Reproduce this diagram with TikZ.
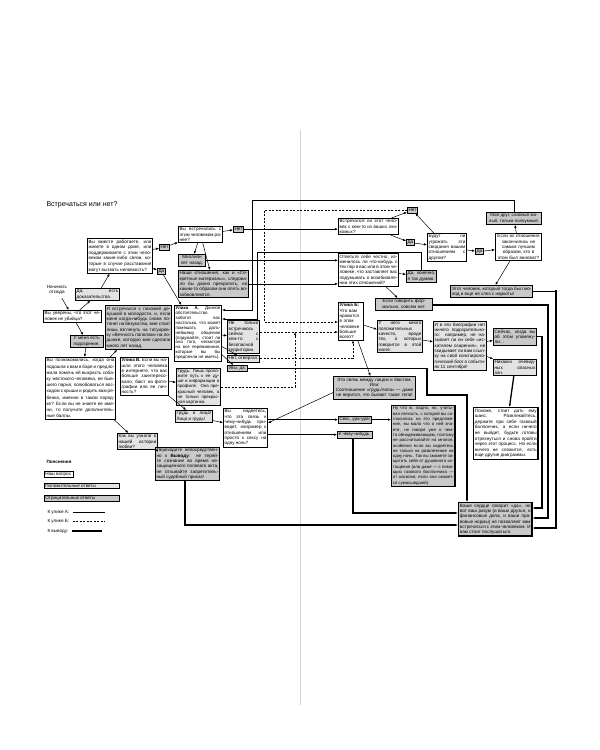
\documentclass[tikz,border=0pt]{standalone}
\usepackage{fontspec}
\setmainfont{Liberation Sans}
\usetikzlibrary{arrows.meta}
\lefthyphenmin=2 \righthyphenmin=2
\hyphenation{ра-бо-та-ете под-дер-жи-ва-ете че-ло-ве-ком ко-то-рые рас-ста-ва-ния вы-звать не-лов-кость
  уве-ре-ны че-ло-век убий-ца до-ка-за-тель-ства по-до-зре-ния
  по-зна-ко-ми-лись по-до-шла пред-ло-жи-ла по-мочь вы-красть со-ба-ку же-сто-ко-го че-ло-ве-ка быв-ше-го
  по-лю-бо-вать-ся вос-хо-дом ре-бен-ка имен-но по-ряд-ке зна-ете име-ни по-лу-чи-те до-пол-ни-тель-ные
  встре-чал-ся по-хо-жей де-вуш-кой мо-ло-до-сти сно-ва по-тя-нет без-ум-ства стоит взгля-нуть
  та-ту-иров-ку веч-ность по-по-лам ло-дыж-ке ко-то-рую сде-ла-ли
  узна-ли на-шей ис-то-рии лю-бви
  пе-ре-хо-ди-те не-по-сред-ствен-но вы-во-ду те-ряй-те со-зна-ние вре-мя не-за-щи-щен-но-го по-ло-во-го
  от-зы-вай-те за-пре-ти-тель-ный су-деб-ный при-каз
  встре-ча-лись ра-нее от-но-ше-ния се-крет-ные ма-те-ри-а-лы сле-до-ва-ло дав-но пре-кра-тить
  об-ра-зом опять во-зоб-нов-ля-ют-ся
  об-сто-я-тель-ство за-бо-тит на-столь-ко мо-жет по-ме-шать даль-ней-ше-му об-ще-нию по-ду-май-те
  не-смот-ря пе-ре-жи-ва-ния пред-по-чли иметь
  встре-ча-юсь сей-час без-опас-ной тер-ри-то-рии
  про-ло-жи-те ду-ше ин-фор-ма-ции про-фи-ле пре-крас-ный пре-крас-ная кар-тин-ка
  на-шли ин-тер-не-те боль-ше за-ин-те-ре-со-ва-ло фо-то-гра-фии лич-ность
  на-де-е-тесь связь при-ве-дет на-при-мер от-но-ше-ни-ям про-сто сек-су
  зна-ко-мых угро-жать сви-да-ния дру-гом слав-ный ма-лый
  за-кон-чи-лись са-мым луч-шим ви-но-ват ко-то-рый тог-да мо-лод нар-ко-ты
  от-веть-те из-ме-ни-лось че-ло-ве-ке за-став-ля-ет по-ду-мы-вать во-зоб-нов-ле-нии от-но-ше-ний
  го-во-рить фор-маль-но со-всем нра-вит-ся все-го
  мно-го по-ло-жи-тель-ных ка-честв вро-де го-во-рит-ся кни-ге
  био-гра-фии ни-че-го по-до-зри-тель-но-го на-зы-ва-ет ис-ка-те-лем оза-ре-ния ски-ды-ва-ет ссыл-ку
  кон-спи-ро-ло-ги-че-ский со-бы-ти-ях сен-тяб-ря
  упо-мя-ну-ли ни-ка-ких оче-вид-ных опас-ных
  по-хо-же сто-ит раз-вле-кай-тесь дер-жи-те се-бе га-зо-вый бал-лон-чик вый-дет
  будь-те го-то-вы от-рях-нуть-ся прой-ти че-рез про-цесс сло-жит-ся дру-гие ди-а-грам-мы
  ли-цом бю-стом со-от-но-ше-ние даже ве-рит-ся бы-ва-ет
  ла-дно учи-ты-вая лег-кость со-гла-си-лись пред-ло-же-ние го-во-ря об-на-де-жи-ва-ю-щем по-это-му
  рас-счи-ты-вай-те мно-гое осо-бен-но раз-вле-че-ние смо-же-те за-щи-тить ду-шев-но-го ис-то-ще-ния
  по-мо-щью га-зо-во-го бал-лон-чи-ка на-си-лия ока-жет-ся су-мас-шед-шей
  сер-дце го-во-рит ра-зум дру-зья фи-нан-со-вые пра-во-вые нор-мы поз-во-ля-ют встре-чать-ся
  по-слу-шать-ся}
\newcommand\fs{\fontsize{4.6}{5.3}\selectfont}
\tikzset{ q/.style   = { draw
                       , fill         = white
                       , line width   = 0.7pt
                       , inner sep    = 1.3pt
                       , anchor       = north west
                       , align        = justify
                       , font         = \fs
                       , text width   = #1
                       },
          q/.default = 40pt,
          pos/.style = { q = #1
                       , fill = gray!22
                       },
          pos/.default = 40pt,
          neg/.style = { q = #1
                       , fill = gray!42
                       },
          neg/.default = 40pt,
          yn/.style  = { draw
                       , fill = gray!42
                       , line width = 0.7pt
                       , inner sep  = 1.2pt
                       , anchor     = north west
                       , font       = \fs
                       },
          arr/.style = { -{Latex[length=3pt,width=2.4pt]}
                       , line width = 0.5pt
                       },
          dsh/.style = { arr
                       , line width   = 0.7pt
                       , dash pattern = on 2pt off 1.5pt
                       },
          thk/.style = { arr
                       , line width = 1.3pt
                       }
        }

\begin{document}
\begin{tikzpicture}[x=1pt, y=-1pt]
  \useasboundingbox (0,0) rectangle (600,750);
  % page fold
  \draw[gray!35, line width=0.8pt] (300,130) -- (300,705);

  \node[anchor=west, font=\fontsize{7}{8.5}\selectfont] (title) at (43,205) {Встречаться или нет?};

  % left page
  \node[q=62.7pt, font=\fontsize{4.6}{5.6}\selectfont] (q1) at (87,238) {Вы вместе работаете, или живете в одном доме, или поддерживаете с этим человеком какие-либо связи, которые в случае расставания могут вызвать неловкость?};
  \node[align=center, font=\fs] (start) at (57,290) {Начинать\\отсюда};
  \node[q=55.7pt] (sure) at (43,310) {Вы уверены, что этот человек не убийца?};
  \node[pos=41.7pt] (evid) at (75,288) {Да, есть доказательства.};
  \node[neg=30pt, align=center] (susp) at (70,335) {У меня есть подозрения.};
  \node[q=67.7pt, font=\fontsize{4.6}{6.2}\selectfont] (met) at (45,357) {Вы познакомились, когда она подошла к вам в баре и предложила помочь ей выкрасть собаку жестокого человека, ее бывшего парня, полюбоваться восходом с крыши и родить вам ребенка, именно в таком порядке? Если вы не знаете ее имени, то получите дополнительные баллы.};
  \node[neg=63.7pt] (similar) at (105,305) {Я встречался с похожей девушкой в молодости, и, если меня когда-нибудь снова потянет на безумства, мне стоит лишь взглянуть на татуировку «Вечность пополам» на лодыжке, которую мне сделали много лет назад.};
  \node[pos=37.7pt] (story) at (117,433) {Как вы узнали о нашей истории любви?};
  \node[neg=61.7pt] (direct) at (155,447) {Переходите непосредственно к \textbf{Выводу}: не теряйте сознание во время незащищенного полового акта, не отзывайте запретительный судебный приказ!};

  \node[q=41.7pt] (before) at (178,226) {Вы встречались с этим человеком ранее?};
  \node[yn] (no0) at (233,226) {Нет};
  \node[yn] (no1) at (159,244) {Нет};
  \node[yn] (yes1) at (157,268) {Да};
  \node[neg=24.7pt, align=center] (million) at (178,254) {Миллион лет назад.};
  \node[neg=67.7pt] (secret) at (178,270) {Наши отношения, как и «Секретные материалы», следовало бы давно прекратить, но каким-то образом они опять возобновляются.};
  \node[q=44.7pt, font=\fontsize{4.4}{4.9}\selectfont] (clueA) at (174,305) {\textbf{Улика А.} Данное обстоятельство заботит вас настолько, что может помешать дальнейшему общению (подумайте, стоит ли оно того, несмотря на все переживания, которые вы бы предпочли не иметь).};
  \node[pos=29.7pt] (notonly) at (227,320) {Не только встречаюсь сейчас с кем-то с безопасной территории.};
  \node[yn, fill=gray!22] (noreject) at (227,355) {Нет, отвергал.};
  \node[yn] (alas) at (227,365) {Увы, да.};
  \node[pos=41.7pt, font=\fontsize{4.4}{5.1}\selectfont] (soul) at (176,368) {Грудь. Лишь проложите путь к ее душе и информации о профиле. Она прекрасный человек, а не только прекрасная картинка.};
  \node[q=45.7pt] (clueV) at (120,357) {\textbf{Улика В.} Если вы нашли этого человека в интернете, что вас больше заинтересовало, бюст на фотографии или ее личность?};
  \node[pos=34.7pt] (bust) at (175,410) {Грудь и лицо! Лицо и грудь!};
  \node[q=41.7pt] (hope) at (223,408) {Вы надеетесь, что эта связь к чему-нибудь приведет, например к отношениям или просто к сексу на одну ночь?};

  % right page
  \node[q=57.7pt] (friends) at (338,218) {Встречался ли этот человек с кем-то из ваших знакомых?};
  \node[yn] (no2) at (407,207) {Нет};
  \node[yn] (yes2) at (406,239) {Да};
  \node[q=36.7pt] (threat) at (427,233) {Будут ли угрожать эти свидания вашим отношениям с другом?};
  \node[yn] (yes3) at (475,248) {Да};
  \node[neg=52.7pt, align=center, font=\fontsize{4.4}{5.3}\selectfont] (buddy) at (486,212) {Мой друг, славный ма-\\лый, только-полоумный.};
  \node[q=43.7pt, align=center] (ended) at (495,233) {Если их отношения закончились не самым лучшим образом, кто в этом был виноват?};
  \node[neg=79.7pt] (junkie) at (450,285) {Этот человек, который тогда был молод и еще не слез с наркоты!};
  \node[q=57.7pt] (honest) at (338,253) {Ответьте себе честно, изменилось ли что-нибудь с тех пор в вас или в этом человеке, что заставляет вас подумывать о возобновлении этих отношений?};
  \node[neg=27.7pt] (yesthink) at (406,270) {Да, конечно, я так думаю.};
  \node[neg=54.7pt, align=center] (formal) at (375,298) {Если говорить формально, совсем нет.};
  \node[q=22.7pt, align=left] (clueB) at (338,302) {\textbf{Улика Б:} Что вам нравится в этом человеке больше всего?};
  \node[pos=42.7pt] (quals) at (377,320) {У него много положительных качеств, вроде тех, о которых говорится в этой книге.};
  \node[pos=50.7pt] (bio) at (433,321) {И в его биографии нет ничего подозрительного: например, не называет ли он себя «искателем озарения», не скидывает ли вам ссылку на свой конспирологический блог о событиях 11 сентября!};
  \node[neg=40.7pt] (now) at (493,328) {Сейчас, когда вы об этом упомянули\dots};
  \node[pos=40.7pt] (nodanger) at (493,359) {Никаких очевидных опасных зон.};
  \node[q=61.7pt, line width=1.3pt, font=\fontsize{4.6}{5.6}\selectfont] (chance) at (473,407) {Похоже, стоит дать ему шанс. Развлекайтесь, держите при себе газовый баллончик, а если ничего не выйдет, будьте готовы отряхнуться и снова пройти через этот процесс. Но если ничего не сложится, есть еще другие диаграммы.};
  \node[neg=79.7pt, align=center] (link) at (333,376) {Это связь между лицом и бюстом.\\Или:\\Соотношение «грудь/попа» — даже не верится, что бывает такое тело!};
  \node[yn] (sex) at (338,416) {Секс, ура-ура!};
  \node[yn] (smth) at (337,431) {К чему-нибудь.};
  \node[neg=60.7pt, line width=1.3pt, font=\fontsize{4.3}{5.3}\selectfont] (well) at (391,405) {Ну что ж, ладно, но, учитывая легкость, с которой вы согласились на это предложение, вы мало что о ней знаете, не говоря уже о чем-то обнадеживающем, поэтому не рассчитывайте на многое, особенно если вы надеетесь не только на развлечение на одну ночь. Так вы сможете защитить себя от душевного истощения (или даже — с помощью газового баллончика — от насилия, если она окажется сумасшедшей).};
  \node[neg=70.7pt, line width=1.3pt] (heart) at (458,502) {Ваше сердце говорит «да», но вот ваш разум (и ваши друзья, и финансовые дела, и ваши правовые нормы) не позволяют вам встречаться с этим человеком. И вам стоит послушаться.};

  % legend
  \node[anchor=west, font=\fs\bfseries] (leg) at (43,462) {Пояснения};
  \node[q=27pt, inner sep=1pt] (lq) at (44,471) {Наш вопрос};
  \node[pos=73pt, inner sep=1pt] (lp) at (44,483) {Положительные ответы};
  \node[neg=73pt, inner sep=1pt] (ln) at (44,495) {Отрицательные ответы};
  \node[anchor=west, font=\fs] (la) at (44,512) {К улике А:};
  \node[anchor=west, font=\fs] (lb) at (44,521) {К улике Б:};
  \node[anchor=west, font=\fs] (lc) at (44,531) {К выводу:};
  \coordinate (la2) at (105,512);
  \coordinate (lb2) at (105,521);
  \coordinate (lc2) at (102,531);
  \draw[line width=0.6pt] (la) -- (la -| la2);
  \draw[line width=0.7pt, dash pattern=on 2pt off 1.5pt] (lb) -- (lb -| lb2);
  \draw[line width=1.3pt] (lc) -- (lc -| lc2);

  % connectors
  \draw[arr] (start) -- (sure);
  \draw[arr] (sure) -- (evid);
  \draw[arr] (evid) -- (q1);
  \draw[arr] (sure) -- (susp);
  \draw[arr] (susp) -- (met);
  \draw[arr] (met) -- (similar);
  \draw[arr] (met) -- (story);
  \draw[arr] (story) -- (direct);
  \draw[arr] (q1) -- (no1);
  \draw[arr] (no1) -- (before);
  \draw[arr] (q1) -- (yes1);
  \draw[arr] (yes1) -- (clueA);
  \draw[arr] (before) -- (no0);
  \draw[arr] (before) -- (million);
  \draw[arr] (before) -- (secret);
  \draw[arr] (no0) -- (no0 -| friends.west);
  \draw[arr] (million) -- (million -| honest.west);
  \draw[arr] (secret) -- (secret -| honest.west);
  \draw[arr] (clueA) -- (notonly);
  \draw[arr] (clueA) -- (noreject);
  \draw[arr] (clueA) -- (alas);
  \draw[arr] (clueV) -- (soul);
  \draw[arr] (clueV) -- (bust);
  \draw[arr] (bust) -- (hope);
  \draw[arr] (friends) -- (no2);
  \draw[arr] (friends) -- (yes2);
  \draw[arr] (yes2) -- (threat);
  \draw[arr] (threat) -- (no2);
  \draw[arr] (threat) -- (yes3);
  \draw[arr] (yes3) -- (ended);
  \draw[arr] (ended) -- (buddy);
  \draw[arr] (ended) -- (junkie);
  \draw[arr] (honest) -- (yesthink);
  \draw[arr] (honest) -- (formal);
  \draw[arr] (clueB) -- (quals);
  \draw[arr] (quals) -- (bio);
  \draw[arr] (bio) -- (now);
  \draw[arr] (bio) -- (nodanger);
  \draw[arr] (clueB) -- (link);
  \draw[arr] ([yshift=7pt]link.south west) -- ([yshift=-15pt]hope.north east);
  \draw[arr] (hope.east |- sex) -- (sex);
  \draw[arr] (hope.east |- smth) -- (smth);
  \draw[arr] (sex) -- (sex -| well.west);
  % to clue A
  \draw[arr] (buddy.north) |- (252,200) |- ([yshift=-5pt]clueA.north east);
  \draw[arr] (yesthink.north) |- (257,252) |- ([yshift=-14pt]clueA.north east);
  % to clue B
  \draw[dsh] (no2.west) -| (264,322) -- ([yshift=-20pt]clueB.north west);
  \draw[dsh] ([yshift=-12pt]notonly.north east) -- ([yshift=-30pt]clueB.north west);
  \draw[dsh] (soul.east) -| (295,332);
  \draw[dsh] (noreject.east) -| ([xshift=15pt]clueB.south west);
  % to conclusion
  \draw[thk] (alas.east) -| (427,395) -| ([xshift=9pt]heart.north west);
  \draw[thk] (nodanger) -- (chance);
  \draw[thk] ([yshift=-7pt]formal.north east) -| (548,305) |- ([yshift=-16pt]heart.north east);
  \draw[thk] (now.east) -| (542,338) |- ([yshift=-6pt]heart.north east);
  \draw[thk] (junkie.east) -| (556,290) |- ([yshift=-26pt]heart.north east);
  \draw[thk] ([xshift=16pt]smth.south west) |- ([yshift=-11pt]heart.north west);
  \draw[thk] ([xshift=30pt]direct.south west) |- ([yshift=-23pt]heart.north west);
\end{tikzpicture}
\end{document}
